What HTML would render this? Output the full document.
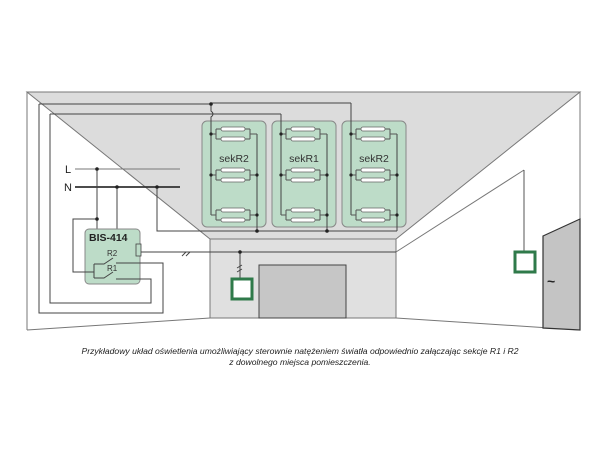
<!DOCTYPE html>
<html><head><meta charset="utf-8"><style>
html,body{margin:0;padding:0;background:#fff;width:600px;height:450px;overflow:hidden}
svg{display:block}
text{font-family:"Liberation Sans",sans-serif}
</style></head><body>
<svg width="600" height="450" viewBox="0 0 600 450" xmlns="http://www.w3.org/2000/svg">
<defs>
<g id="lamp">
  <path d="M0,0 H5 M5,-5 V5 M5,-5 H10 M5,5 H10 M34,-5 H39 M34,5 H39 M39,-5 V5 M39,0 H46" stroke="#555" stroke-width="1" fill="none"/>
  <rect x="10" y="-7" width="24" height="4" rx="2" fill="#fff" stroke="#666" stroke-width="0.8"/>
  <rect x="10" y="3" width="24" height="4" rx="2" fill="#fff" stroke="#666" stroke-width="0.8"/>
</g>
</defs>
<!-- room -->
<polyline points="27,330 27,92 580,92 580,330" fill="none" stroke="#777" stroke-width="1"/>
<polygon points="27,92 580,92 396,239 210,239" fill="#dcdcdc" stroke="#777" stroke-width="1"/>
<rect x="210" y="239" width="186" height="79" fill="#e0e0e0" stroke="#777" stroke-width="1"/>
<line x1="210" y1="252" x2="396" y2="252" stroke="#888" stroke-width="1"/>
<polyline points="27,330 210,318 396,318 580,330" fill="none" stroke="#777"/>
<line x1="396" y1="252" x2="524" y2="170" stroke="#777"/>
<line x1="524" y1="170" x2="524" y2="252" stroke="#555"/>
<rect x="515" y="252" width="20" height="20" fill="#fff" stroke="#2f7a4a" stroke-width="3"/>
<polygon points="543,236 580,219 580,330 543,328" fill="#c4c4c4" stroke="#333" stroke-width="1.2"/>
<text x="547" y="286" font-size="14" font-weight="bold" fill="#222">~</text>
<rect x="259" y="265" width="87" height="53" fill="#c6c6c6" stroke="#444" stroke-width="1"/>
<!-- fixtures -->
<rect x="202" y="121" width="64" height="106" rx="5" fill="#bddcc8" stroke="#888"/>
<rect x="272" y="121" width="64" height="106" rx="5" fill="#bddcc8" stroke="#888"/>
<rect x="342" y="121" width="64" height="106" rx="5" fill="#bddcc8" stroke="#888"/>
<text x="234" y="162" font-size="10.5" text-anchor="middle" fill="#333">sekR2</text>
<text x="304" y="162" font-size="10.5" text-anchor="middle" fill="#333">sekR1</text>
<text x="374" y="162" font-size="10.5" text-anchor="middle" fill="#333">sekR2</text>
<g stroke="#444" stroke-width="1" fill="none">
  <path d="M211,104 V111 q4,3 0,6 V215"/>
  <path d="M281,114 V215"/>
  <path d="M351,103 V215"/>
  <path d="M257,134 V231 M327,134 V231 M397,134 V231"/>
  <path d="M39,104 H211"/>
  <path d="M50,114 H281"/>
  <path d="M39,104 V313 H163 V263 H116"/>
  <path d="M50,114 V303 H151 V279 H116"/>
  <path d="M211,103 H351"/>
  <path d="M75,169 H180" stroke="#777"/>
  <path d="M75,187 H180" stroke="#333" stroke-width="1.8"/>
  <path d="M97,169 V230 M97,219 H73 V272 H94 M117,187 V230 M157,187 V231 H397"/>
  <path d="M141,252 H396 M240,252 V278"/>
  <path d="M182,256 l4,-4 M186,256 l4,-4 M237,268 l5,-3 M237,272 l5,-3"/>
</g>
<g>
  <use href="#lamp" x="211" y="134"/><use href="#lamp" x="211" y="175"/><use href="#lamp" x="211" y="215"/>
  <use href="#lamp" x="281" y="134"/><use href="#lamp" x="281" y="175"/><use href="#lamp" x="281" y="215"/>
  <use href="#lamp" x="351" y="134"/><use href="#lamp" x="351" y="175"/><use href="#lamp" x="351" y="215"/>
</g>
<!-- relay -->
<rect x="85" y="229" width="55" height="55" rx="4" fill="#bddcc8" stroke="#888"/>
<g stroke="#444" stroke-width="1" fill="none">
  <path d="M94,264 V278 M94,264 H104 L113,258 M94,278 H104 L113,272 M116,263 H163 M116,279 H151 M94,272 H73"/>
</g>
<rect x="136" y="244" width="5" height="12" fill="#bddcc8" stroke="#444" stroke-width="0.8"/>
<text x="89" y="241" font-size="10.5" font-weight="bold" fill="#222">BIS-414</text>
<text x="107" y="256" font-size="8" fill="#333">R2</text>
<text x="107" y="271" font-size="8" fill="#333">R1</text>
<text x="65" y="173" font-size="11" fill="#222">L</text>
<text x="64" y="191" font-size="11" fill="#222">N</text>
<rect x="232" y="279" width="20" height="20" fill="#fff" stroke="#2f7a4a" stroke-width="3"/>
<g fill="#222">
  <circle cx="211" cy="104" r="1.8"/><circle cx="97" cy="169" r="1.8"/><circle cx="97" cy="219" r="1.8"/>
  <circle cx="117" cy="187" r="1.8"/><circle cx="157" cy="187" r="1.8"/><circle cx="240" cy="252" r="1.8"/>
  <circle cx="257" cy="231" r="1.8"/><circle cx="327" cy="231" r="1.8"/>
  <circle cx="211" cy="134" r="1.6"/><circle cx="211" cy="175" r="1.6"/><circle cx="257" cy="175" r="1.6"/><circle cx="257" cy="215" r="1.6"/>
  <circle cx="281" cy="134" r="1.6"/><circle cx="281" cy="175" r="1.6"/><circle cx="327" cy="175" r="1.6"/><circle cx="327" cy="215" r="1.6"/>
  <circle cx="351" cy="134" r="1.6"/><circle cx="351" cy="175" r="1.6"/><circle cx="397" cy="175" r="1.6"/><circle cx="397" cy="215" r="1.6"/>
</g>
<text x="300" y="354" font-size="8.6" font-style="italic" text-anchor="middle" fill="#222">Przykładowy układ oświetlenia umożliwiający sterownie natężeniem światła odpowiednio załączając sekcje R1 i R2</text>
<text x="300" y="365" font-size="8.6" font-style="italic" text-anchor="middle" fill="#222">z dowolnego miejsca pomieszczenia.</text>
</svg>
</body></html>
